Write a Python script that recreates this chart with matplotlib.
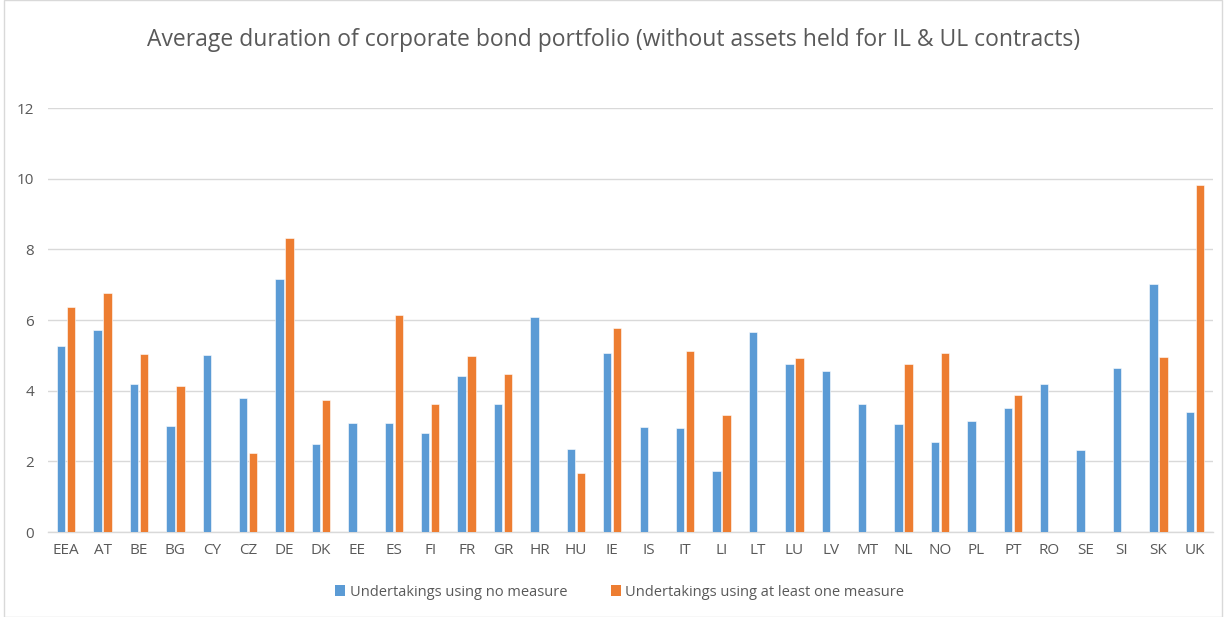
import matplotlib
matplotlib.use("Agg")
import matplotlib.pyplot as plt
import numpy as np
from matplotlib.patches import Rectangle, Patch

categories = ["EEA", "AT", "BE", "BG", "CY", "CZ", "DE", "DK", "EE", "ES", "FI", "FR", "GR",
              "HR", "HU", "IE", "IS", "IT", "LI", "LT", "LU", "LV", "MT", "NL", "NO", "PL",
              "PT", "RO", "SE", "SI", "SK", "UK"]
no_measure = [5.27, 5.71, 4.18, 3.00, 5.01, 3.79, 7.16, 2.50, 3.09, 3.09, 2.81, 4.41, 3.63,
              6.08, 2.36, 5.07, 2.98, 2.93, 1.73, 5.65, 4.76, 4.56, 3.62, 3.06, 2.55, 3.15,
              3.51, 4.20, 2.32, 4.65, 7.02, 3.41]
one_measure = [6.37, 6.77, 5.04, 4.12, np.nan, 2.24, 8.32, 3.74, np.nan, 6.13, 3.63, 4.99, 4.48,
               np.nan, 1.68, 5.78, np.nan, 5.11, 3.31, np.nan, 4.92, np.nan, np.nan, 4.76, 5.07, np.nan,
               3.87, np.nan, np.nan, np.nan, 4.96, 9.82]
series_names = ["Undertakings using no measure", "Undertakings using at least one measure"]
title = "Average duration of corporate bond portfolio (without assets held for IL & UL contracts)"
yticks = [0, 2, 4, 6, 8, 10, 12]

plt.rcParams['font.family'] = ['Open Sans', 'DejaVu Sans']
blue = "#5B9BD5"
orange = "#ED7D31"
txt = "#595959"

W, H = 1227, 617
fig = plt.figure(figsize=(W / 100, H / 100), dpi=100)
ax = fig.add_axes([48 / W, 1 - 532 / H, (1213 - 48) / W, (532 - 108) / H])

x = np.arange(len(categories))
bw = 0.23
off = 0.137
ax.bar(x - off, no_measure, width=bw, color=blue, edgecolor="white", linewidth=0.4, zorder=3)
ax.bar(x + off, np.nan_to_num(one_measure), width=bw, color=orange, edgecolor="white", linewidth=0.4, zorder=3)

ax.set_xlim(-0.5, len(categories) - 0.5)
ax.set_ylim(0, 12)
ax.set_yticks(yticks)
ax.set_xticks(x)
ax.set_xticklabels(categories)
ax.grid(axis="y", color="#D9D9D9", linewidth=1, zorder=0)
for s in ["top", "right", "left"]:
    ax.spines[s].set_visible(False)
ax.spines["bottom"].set_color("#D9D9D9")
ax.spines["bottom"].set_linewidth(1)
ax.tick_params(axis="both", length=0, colors=txt, labelsize=11)
ax.tick_params(axis="x", pad=8)
ax.tick_params(axis="y", pad=10)

fig.text(0.5, 1 - 40 / H, title, ha="center", va="center", fontsize=16.5, color=txt)

handles = [Patch(facecolor=blue), Patch(facecolor=orange)]
fig.legend(handles, series_names, loc="center", bbox_to_anchor=(0.505, 1 - 592 / H), ncol=2,
           frameon=False, fontsize=10.5, labelcolor=txt, handlelength=0.7, handleheight=0.7,
           handletextpad=0.3, columnspacing=3.0)

fig.patches.append(Rectangle((4 / W, 0), (1222 - 4) / W, 1, transform=fig.transFigure,
                             fill=False, edgecolor="#D9D9D9", linewidth=1))

fig.savefig("out.png", dpi=100, facecolor="white")
